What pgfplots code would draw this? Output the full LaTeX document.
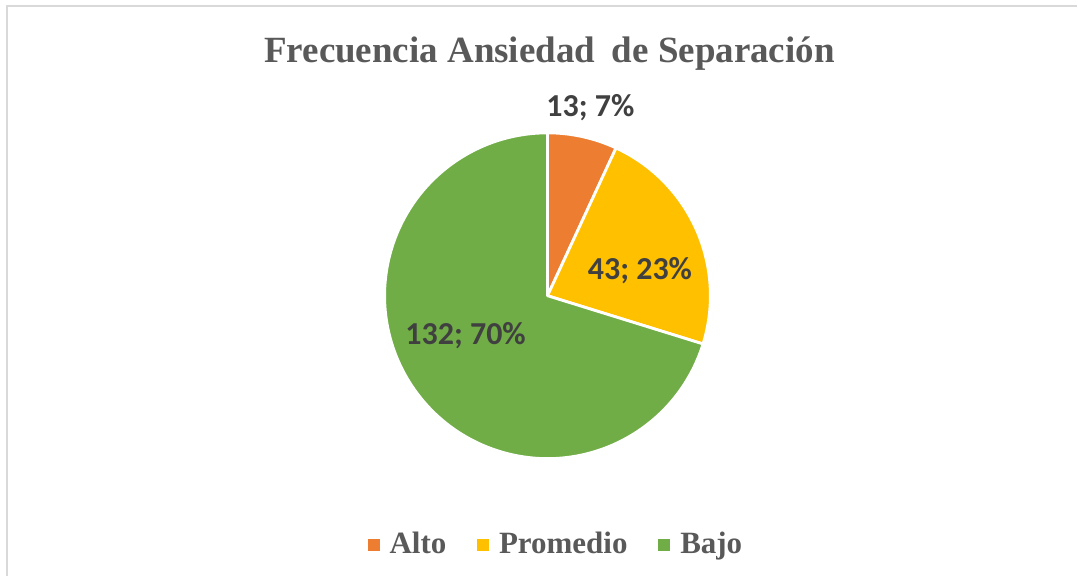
\documentclass[border=0pt]{standalone}
\usepackage{pgfplots}
\pgfplotsset{compat=1.18}
\usepackage{pgfplotstable}
\usepackage{fontspec}
\setmainfont{Liberation Serif}
\newfontfamily\carlito{Carlito}
\definecolor{cAlto}{HTML}{ED7D31}
\definecolor{cProm}{HTML}{FFC000}
\definecolor{cBajo}{HTML}{70AD47}
\definecolor{titlegray}{HTML}{595959}
\definecolor{labelgray}{HTML}{404040}
\definecolor{framegray}{HTML}{D9D9D9}

\pgfplotstableread{
label value
Alto 13
Promedio 43
Bajo 132
}\piedata

\begin{document}
\begin{tikzpicture}
\pgfplotstablegetelem{0}{value}\of\piedata \let\vA\pgfplotsretval
\pgfplotstablegetelem{1}{value}\of\piedata \let\vB\pgfplotsretval
\pgfplotstablegetelem{2}{value}\of\piedata \let\vC\pgfplotsretval
\pgfmathsetmacro\total{\vA+\vB+\vC}
\pgfmathsetmacro\fA{\vA/\total}
\pgfmathsetmacro\fB{\vB/\total}
\pgfmathsetmacro\fC{\vC/\total}
\pgfmathsetmacro\aA{90-360*\fA}
\pgfmathsetmacro\aB{\aA-360*\fB}
\pgfmathsetmacro\aC{\aB-360*\fC}
\pgfmathtruncatemacro\pA{round(100*\fA)}
\pgfmathtruncatemacro\pB{round(100*\fB)}
\pgfmathtruncatemacro\pC{round(100*\fC)}
\begin{axis}[
  x=0.5pt, y=0.5pt,
  xmin=0, xmax=1078, ymin=0, ymax=577,
  scale only axis, hide axis, clip=false,
  legend columns=3,
  legend style={draw=none, fill=none, at={(axis cs:555.5,32)}, anchor=center,
    font=\fontsize{15.5}{18}\selectfont\bfseries\color{titlegray},
    nodes={inner sep=0pt},
    /tikz/every odd column/.append style={column sep=5pt},
    /tikz/every even column/.append style={column sep=15.5pt}},
]
\path (axis cs:0,0) rectangle (axis cs:1078,577);
\draw[framegray, line width=1pt] (axis cs:7,0) -- (axis cs:7,571) -- (axis cs:1078,571);

\addlegendimage{legend image code/.code={\fill[cAlto] (0pt,-2.75pt) rectangle (5.5pt,2.75pt);}}
\addlegendentry{Alto}
\addlegendimage{legend image code/.code={\fill[cProm] (0pt,-2.75pt) rectangle (5.5pt,2.75pt);}}
\addlegendentry{Promedio}
\addlegendimage{legend image code/.code={\fill[cBajo] (0pt,-2.75pt) rectangle (5.5pt,2.75pt);}}
\addlegendentry{Bajo}

\filldraw[fill=cAlto, draw=white, line width=1.4pt, line join=round] (axis cs:548,281) -- ++(90:81.5pt) arc[start angle=90, end angle=\aA, radius=81.5pt] -- cycle;
\filldraw[fill=cProm, draw=white, line width=1.4pt, line join=round] (axis cs:548,281) -- ++(\aA:81.5pt) arc[start angle=\aA, end angle=\aB, radius=81.5pt] -- cycle;
\filldraw[fill=cBajo, draw=white, line width=1.4pt, line join=round] (axis cs:548,281) -- ++(\aB:81.5pt) arc[start angle=\aB, end angle=\aC, radius=81.5pt] -- cycle;

\node[anchor=base, font=\fontsize{18.5}{22}\selectfont\bfseries, text=titlegray] at (axis cs:550,514) {Frecuencia Ansiedad\hspace{0.2em} de Separación};

\node[anchor=base, font=\carlito\bfseries\fontsize{16}{19}\selectfont, text=labelgray] at (axis cs:591,460) {\vA; \pA\%};
\node[anchor=base, font=\carlito\bfseries\fontsize{16}{19}\selectfont, text=labelgray] at (axis cs:640.5,297) {\vB; \pB\%};
\node[anchor=base, font=\carlito\bfseries\fontsize{16}{19}\selectfont, text=labelgray] at (axis cs:466,232) {\vC; \pC\%};
\end{axis}
\end{tikzpicture}
\end{document}
